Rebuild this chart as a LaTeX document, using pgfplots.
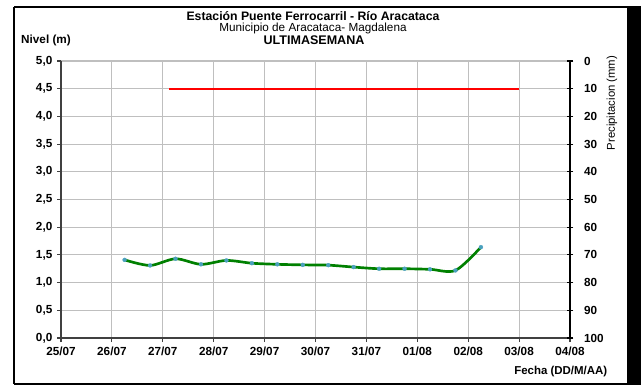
\documentclass[border=0pt]{standalone}
\usepackage{fontspec}
\setmainfont{Liberation Sans}
\usepackage{pgfplots}
\pgfplotsset{compat=1.18}
\definecolor{mk}{RGB}{74,160,190}
\definecolor{gline}{RGB}{0,128,0}
\begin{document}
\begin{tikzpicture}[x=0.75pt,y=0.75pt]
\useasboundingbox (0,0) rectangle (641,385);
\fill[white] (0,0) rectangle (641,385);
\draw[black,line width=2pt] (14,378) -- (628,378);
\draw[black,line width=2pt] (14,378) -- (14,1);
\draw[black,line width=2pt] (14,1) -- (628,1);
\fill[black] (627,379) rectangle (641,0);

\pgfplotsset{every tick label/.append style={font=\fontsize{8.8}{10}\selectfont\bfseries}}

\begin{axis}[
  at={(45.75pt,35.25pt)}, anchor=south west, scale only axis,
  width=381.75pt, height=207.75pt,
  xmin=0, xmax=10, ymin=0, ymax=5,
  axis x line*=bottom, axis y line*=left,
  axis line style={line width=1.3pt, black!75, -},
  xtick={0,1,2,3,4,5,6,7,8,9,10},
  xticklabels={25/07,26/07,27/07,28/07,29/07,30/07,31/07,01/08,02/08,03/08,04/08},
  ytick={0,0.5,1,1.5,2,2.5,3,3.5,4,4.5,5},
  yticklabels={{0,0},{0,5},{1,0},{1,5},{2,0},{2,5},{3,0},{3,5},{4,0},{4,5},{5,0}},
  grid=major,
  major grid style={black!25, line width=0.8pt},
  tick align=outside, major tick length=3pt,
  tick style={black!75, line width=0.8pt},
  clip=false,
]
\addplot[red, line width=1.5pt] coordinates {(2.13,4.5) (9,4.5)};
\addplot[gline, line width=2pt, smooth, tension=0.5, mark=*, mark size=1.5pt,
  mark options={draw=mk, fill=mk, line width=0.2pt, solid}] coordinates {
(1.25,1.41) (1.75,1.31) (2.25,1.43) (2.75,1.33) (3.25,1.40) (3.75,1.35)
(4.25,1.33) (4.75,1.32) (5.25,1.315) (5.75,1.28) (6.25,1.25) (6.75,1.25)
(7.25,1.24) (7.75,1.22) (8.25,1.64)};
\end{axis}

\begin{axis}[
  at={(45.75pt,35.25pt)}, anchor=south west, scale only axis,
  width=381.75pt, height=207.75pt,
  xmin=0, xmax=10, ymin=0, ymax=100, y dir=reverse,
  axis x line=none, axis y line*=right,
  axis line style={line width=1.1pt, black, -},
  ytick={0,10,20,30,40,50,60,70,80,90,100},
  /pgf/number format/assume math mode=true,
  yticklabel style={xshift=4.5pt},
  tick align=center, major tick length=5pt,
  tick style={black, line width=0.8pt},
]
\addplot[draw=none] coordinates {(0,0)};
\end{axis}

\node[inner sep=0pt, font=\fontsize{9.2}{10}\selectfont\bfseries] at (313,368.5) {Estación Puente Ferrocarril - Río Aracataca};
\node[inner sep=0pt, font=\fontsize{8.8}{10}\selectfont] at (313,356.5) {Municipio de Aracataca- Magdalena};
\node[inner sep=0pt, font=\fontsize{9.4}{10}\selectfont\bfseries] at (314,344.5) {ULTIMASEMANA};
\node[font=\fontsize{8.8}{10}\selectfont\bfseries] at (46,344.3) {Nivel (m)};
\node[font=\fontsize{8.6}{10}\selectfont\bfseries, anchor=east] at (612,13) {Fecha (DD/M/AA)};
\node[font=\fontsize{8.5}{10}\selectfont, rotate=90] at (612,282) {Precipitacion (mm)};
\end{tikzpicture}
\end{document}
